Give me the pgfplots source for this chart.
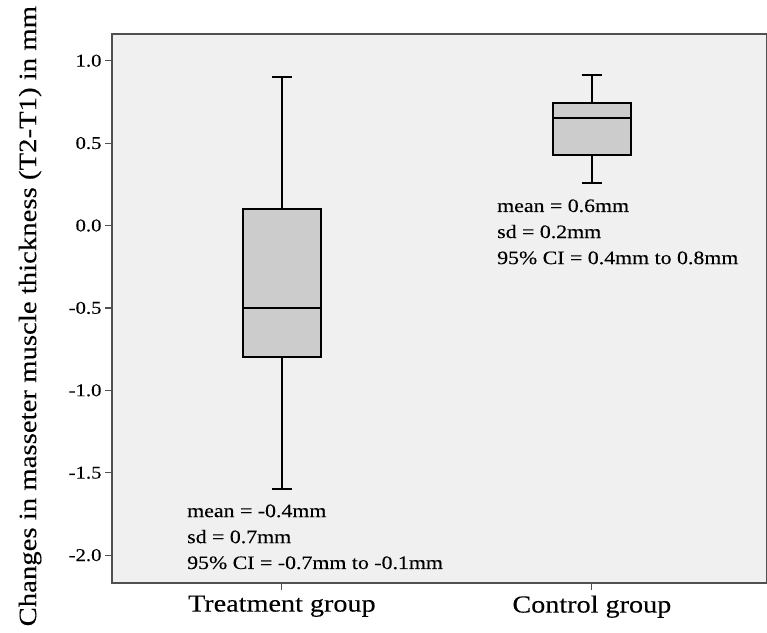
\documentclass[border=0pt]{standalone}
\usepackage{pgfplots}
\pgfplotsset{compat=1.18}
\usepgfplotslibrary{statistics}
\usepackage{fontspec}
\setmainfont{Liberation Serif}[FakeStretch=1.15, FakeBold=0.2]
\definecolor{bggray}{HTML}{F0F0F0}
\definecolor{boxgray}{HTML}{CCCCCC}
\definecolor{framegray}{HTML}{505050}
\begin{document}
\begin{tikzpicture}
\begin{axis}[
  scale only axis,
  width=655pt, height=549pt,
  xmin=0.452, xmax=2.565,
  ymin=-2.169, ymax=1.162,
  boxplot/draw direction=y,
  axis background/.style={fill=bggray},
  axis line style={framegray, line width=1.2pt},
  xtick={1,2},
  xticklabels={Treatment group, Control group},
  ytick={-2,-1.5,-1,-0.5,0,0.5,1},
  yticklabels={-2.0,-1.5,-1.0,-0.5,0.0,0.5,1.0},
  tick align=outside,
  major tick length=7pt,
  tick style={framegray, line width=1.2pt},
  xtick pos=bottom, ytick pos=left,
  xticklabel style={font=\fontsize{24.5}{26}\selectfont, yshift=-2pt},
  yticklabel style={font=\fontsize{18}{20}\selectfont},
  ylabel={Changes in masseter muscle thickness (T2-T1) in mm},
  ylabel style={font=\fontsize{25}{27}\selectfont, at={(axis description cs:-0.125,0.486)}, anchor=center},
  clip=false,
]
\addplot[boxplot prepared={draw position=1, median=-0.5, upper quartile=0.1,
  lower quartile=-0.8, upper whisker=0.9, lower whisker=-1.6,
  box extend=0.25, whisker extend=0.065},
  draw=black, fill=boxgray, line width=2pt] coordinates {};
\addplot[boxplot prepared={draw position=2, median=0.654, upper quartile=0.744,
  lower quartile=0.426, upper whisker=0.916, lower whisker=0.258,
  box extend=0.25, whisker extend=0.065},
  draw=black, fill=boxgray, line width=2pt] coordinates {};
% annotations
\begin{scope}[every node/.style={anchor=base west, inner sep=0pt, font=\fontsize{19}{21}\selectfont}]
\node at (axis cs:0.694,-1.769) {mean = -0.4mm};
\node at (axis cs:0.694,-1.927) {sd = 0.7mm};
\node at (axis cs:0.694,-2.084) {95\% CI = -0.7mm to -0.1mm};
\node at (axis cs:1.694,0.082) {mean = 0.6mm};
\node at (axis cs:1.694,-0.076) {sd = 0.2mm};
\node at (axis cs:1.694,-0.234) {95\% CI = 0.4mm to 0.8mm};
\end{scope}
\end{axis}
\pgfresetboundingbox
\path ([xshift=-112pt,yshift=-50pt]current axis.south west) rectangle ([yshift=34pt]current axis.north east);
\end{tikzpicture}
\end{document}
